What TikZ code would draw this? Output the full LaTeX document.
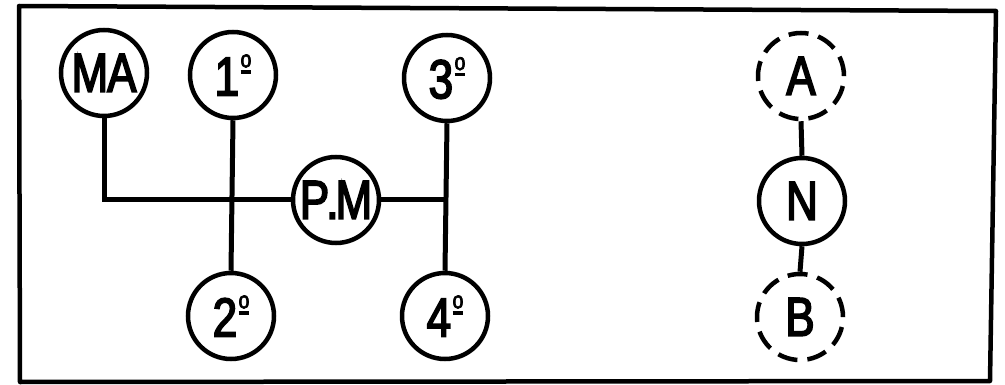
\documentclass[tikz,border=0pt]{standalone}
\usepackage{fontspec}
\setmainfont{Liberation Sans}[FakeStretch=0.8,FakeBold=3]
% raised ordinal sign: small o over a bar
\newcommand\ordmark{\kern1.5pt\raisebox{22pt}{\vbox{\hbox{\fontsize{24}{24}\selectfont o}\kern2.5pt\hrule height 3.5pt}}}
\begin{document}
\begin{tikzpicture}[x=1pt,y=-1pt,
  gear/.style={circle,draw,line width=4.5pt,minimum size=86pt,inner sep=0pt,
    font=\fontsize{55}{55}\selectfont},
  ghost/.style={gear,dash pattern=on 20pt off 10pt},
  rod/.style={line width=5pt}]
\useasboundingbox (0,0) rectangle (1005,385);
% frame
\draw[line width=4.5pt,line join=round] (19,6) -- (996,11) -- (990,381) -- (20,382) -- cycle;
% shift pattern
\node[gear] (MA) at (104,73) {M\kern-1pt A};
\node[gear] (G1) at (233,75) {1\ordmark};
\node[gear] (G2) at (231,316) {2\ordmark};
\node[gear] (G3) at (447,78) {3\ordmark};
\node[gear] (G4) at (445,316) {4\ordmark};
\node[gear] (PM) at (336,200) {P\kern-3pt.\kern-3pt M};
\draw[rod] (MA.south) |- (PM.west);
\draw[rod] (G1.south) -- (G2.north);
\draw[rod] (G3.south) -- (G4.north);
\draw[rod] (PM.east) -- (PM.east -| G3.south);
% auxiliary selector
\node[ghost] (A) at (801,76) {A};
\node[gear] (N) at (802,201) {N};
\node[ghost] (B) at (800,317) {B};
\draw[rod] (A.south) -- (N.north);
\draw[rod] (N.south) -- (B.north);
\end{tikzpicture}
\end{document}
